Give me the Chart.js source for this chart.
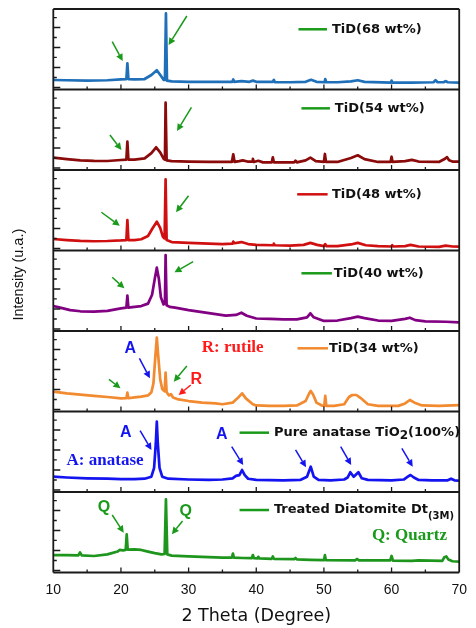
<!DOCTYPE html>
<html><head><meta charset="utf-8">
<script src="https://cdn.jsdelivr.net/npm/chart.js@4.4.0/dist/chart.umd.min.js"></script>
<style>html,body{margin:0;padding:0;background:#fff}#wrap{width:476px;height:628px}</style>
</head><body><div id="wrap"><canvas id="c" width="476" height="628"></canvas></div>
<script>
// ---------- axis ----------
const xMin = 10, xMax = 70;
const xMajorTicks = [10, 20, 30, 40, 50, 60, 70];
const xMinorTicks = [15, 25, 35, 45, 55, 65];
const panelCount = 7;      // panels stacked bottom -> top
const panelSpan = 100;     // relative intensity units per panel

// ---------- series (2θ, relative intensity) bottom -> top ----------
const seriesNames = ['Treated Diatomite Dt(3M)', 'Pure anatase TiO2(100%)', 'TiD(34 wt%)', 'TiD(40 wt%)', 'TiD(48 wt%)', 'TiD(54 wt%)', 'TiD(68 wt%)'];
const seriesColors = ['#1e961e', '#1414f0', '#f28a30', '#820082', '#d01010', '#8b0a0a', '#1f70b8'];

const diatomite = [[10,21.7],[12,21.5],[13.7,21.2],[13.95,24.8],[14.2,21.2],[16,20.5],[18,22.5],[19.5,26],[19.8,28],[20.3,27.5],[20.7,28],[20.85,47.4],[21.0,28.5],[22,28.8],[23,28],[24,26],[25,24],[26,22.5],[26.45,23],[26.65,90.9],[26.85,22.5],[27.5,21],[30,20],[33,19],[35,18.5],[36.4,18.5],[36.55,23.5],[36.7,18.5],[38,18],[39.35,17.8],[39.5,21.7],[39.65,17.8],[40.2,17.5],[40.3,19.5],[40.45,17.5],[42.3,17],[42.45,20],[42.6,17],[45.6,16.5],[45.8,18],[46,16.3],[48,15.8],[50,15.3],[50.15,21.5],[50.3,15.2],[54.6,15],[54.9,16.8],[55.2,15],[59.8,15],[60.0,20.5],[60.2,14.8],[63,14.5],[64,15],[67.5,14.5],[67.8,19],[68.1,20],[68.4,16],[69,14],[70,13.5]];

const anatase = [[10,19],[12,18],[15,17],[18,16.5],[20,16.1],[22,16],[23.5,16.5],[24.5,19],[24.9,30],[25.15,60],[25.3,87.3],[25.45,60],[25.7,30],[26.1,19],[27,16.5],[30,15.5],[33,15],[35,15.5],[36.5,17],[37.0,20],[37.5,21],[37.9,27.3],[38.3,21],[38.8,16.5],[40,15],[44,14.5],[46.5,15],[47.5,19],[48.05,31.4],[48.5,19],[49.2,15],[51,14.5],[53,15.5],[53.5,18],[53.9,24.5],[54.4,19],[55.1,24.5],[55.6,17],[56.5,15],[60,14.5],[61.8,15.5],[62.4,19],[62.8,21.1],[63.3,18],[64,15],[66,14.5],[68.3,14.5],[68.8,16.5],[69.3,14.5],[70,14]];

const tid34 = [[10,24.6],[12,22.5],[14,21],[16,19.5],[18,18],[20,16.4],[20.8,16.5],[20.95,23.4],[21.1,16.5],[22,17.5],[23,18.5],[24,20],[24.5,24],[24.8,35],[25.1,70],[25.3,91.7],[25.5,70],[25.8,40],[26.1,28],[26.45,25],[26.6,48.2],[26.75,24],[27.1,20],[27.4,21.4],[27.7,17.5],[28.5,15],[30,13],[32,11],[34,10],[35,9],[36.5,11],[37.3,17],[37.9,22.6],[38.5,16],[39.5,9],[40,7.5],[42,7],[44,7],[46,7.5],[47.3,13],[47.8,22],[48.05,25.5],[48.4,21],[48.9,11],[49.7,7.5],[50.05,7],[50.2,19.3],[50.35,7],[51.5,7],[53,9],[53.7,18],[54.2,20.5],[54.8,20.5],[55.4,17],[56.5,9],[58,7],[61,7],[62,10],[62.7,14.3],[63.4,11],[64.5,7.5],[67,7],[70,8]];

const tid40 = [[10,31],[11,29],[12.5,26],[14,24.5],[16,24],[18,25],[20,28.2],[20.8,29],[20.95,43.9],[21.1,29],[22,30],[23,31],[24,34],[24.6,45],[25,65],[25.3,78.7],[25.6,65],[25.9,42],[26.3,33],[26.5,35],[26.6,94.4],[26.75,32],[27.2,30],[28,29],[30,26],[32,23.5],[34,21],[35.5,19],[37,20],[37.8,22.7],[38.6,19],[40,15.5],[42,15],[44,14.5],[46,14.5],[47.5,17],[48,22],[48.5,17],[50,12.5],[52,13],[54,16],[55,17.8],[56,16],[58,13],[60,12.5],[62,15],[62.7,16.5],[63.5,13.5],[65,12],[68,11.5],[70,10.8]];

const tid48 = [[10,14.3],[12,13],[14,12],[16,11.5],[18,11.8],[20,12.5],[20.8,13],[20.95,37.9],[21.1,13],[22,13],[23,14],[24,18],[24.7,28],[25.3,35.8],[25.8,28],[26.2,17],[26.45,15],[26.6,88.4],[26.75,13],[27.5,10.5],[30,9.5],[33,8.5],[35,8],[36.5,8.5],[36.6,11],[36.75,9],[37.8,10.5],[38.8,8],[40,7],[42.5,6.5],[42.6,8.5],[42.75,6.5],[45,6],[47,7],[48,9.5],[49,7],[50,5.5],[50.2,8],[50.35,5.5],[52,5.5],[54,7.5],[55,9.5],[56.2,6.5],[58,5.5],[60,5],[60.1,6.5],[60.25,5],[62,5.5],[62.8,7],[64,5],[67,4.5],[68,6],[69,5],[70,4.7]];

const tid54 = [[10,15.3],[12,13.5],[14,12],[16,11.3],[18,11.2],[20,12.4],[20.8,13],[20.95,35.2],[21.1,13],[22,13],[23.5,14.5],[24.5,21],[25.2,28.2],[25.8,22],[26.3,14],[26.5,13],[26.6,83.6],[26.75,12],[27.5,11],[30,10.5],[33,10],[36.4,10],[36.6,19.5],[36.8,10],[37.5,11],[38,12],[38.7,10.5],[39.4,10.5],[39.5,13.7],[39.65,10],[40.3,11.5],[41,9.5],[42.3,9.5],[42.45,15.8],[42.6,9.5],[45.6,9.5],[45.8,11.5],[46,9.5],[47.3,12],[48,15.3],[48.8,11],[50,10],[50.15,19.9],[50.3,10],[52,10],[54,15],[55,18.3],[56,13.5],[58,10],[59.85,10],[60,16.5],[60.15,10],[62,11],[63,12.5],[64,10.5],[67,10],[67.9,14],[68.2,16],[68.5,12],[69,10.5],[70,10.3]];

const tid68 = [[10,11.8],[12,11.5],[15,11],[18,11.5],[20,12.5],[20.8,13],[20.95,32.5],[21.1,13],[22,12.5],[23.5,13],[24.5,18],[25.3,24],[25.9,17],[26.3,12],[26.5,12],[26.65,94.6],[26.8,11],[27.5,10],[30,9.5],[33,9.5],[36.45,9.5],[36.6,12.5],[36.75,9.5],[37.8,10.5],[39,9.5],[39.5,11],[40,9.5],[42.45,9.5],[42.6,12],[42.75,9],[45,9],[47.3,9.5],[48.1,12],[48.9,9.5],[50.1,9],[50.2,13],[50.35,9],[52,9],[54,10],[55,11.5],[56,9.5],[59.9,8.5],[60.0,11],[60.15,8.5],[63,8.5],[66.2,9],[66.5,11.5],[66.8,9],[67.7,9],[68.0,10.5],[68.3,9],[70,8.5]];

const seriesData = [diatomite, anatase, tid34, tid40, tid48, tid54, tid68];

// ---------- annotations (panel, 2θ, panel-relative y) ----------
const legendParts = [
  [['Treated Diatomite Dt', 0], ['(3M)', 1]],
  [['Pure anatase TiO', 0], ['2', 2], ['(100%)', 0]],
  [['TiD(34 wt%)', 0]],
  [['TiD(40 wt%)', 0]],
  [['TiD(48 wt%)', 0]],
  [['TiD(54 wt%)', 0]],
  [['TiD(68 wt%)', 0]]
];
const legendSwatchColors = ['#1a9a1a', '#1a9a1a', '#f28a30', '#1a9a1a', '#d01010', '#1a9a1a', '#1a9a1a'];
// [lineStart, lineEnd, textStart, y]
const legendPlace = [[37.53,41.89,42.61,77.6],[37.53,41.89,42.61,73.7],[46.10,50.60,50.74,78.5],[46.68,51.18,51.47,71.7],[46.05,50.55,51.18,69.8],[46.68,50.89,51.62,76.6],[46.24,50.45,51.18,74.8]];

// arrows: [panel, x1, y1, x2, y2, color]
const arrows = [
  [6,18.71,59.4,20.26,35.4,'#1a9a1a'],[6,29.74,91.3,27.04,55.3,'#1a9a1a'],
  [5,18.37,43.5,20.07,24.8,'#1a9a1a'],[5,30.42,77.9,28.29,48.4,'#1a9a1a'],
  [4,17.11,47.5,19.83,30.8,'#1a9a1a'],[4,29.99,68.1,28.14,47.5,'#1a9a1a'],
  [3,18.71,66.7,20.51,53.0,'#1a9a1a'],[3,30.67,86.1,27.91,72.9,'#1a9a1a'],
  [2,18.23,40.0,19.93,28.8,'#1a9a1a'],[2,22.73,66.1,24.28,41.2,'#1414f0'],[2,29.74,56.5,27.81,37.0,'#1a9a1a'],[2,30.32,32.9,28.53,20.5,'#ff1a1a'],
  [1,22.83,76.1,24.51,52.2,'#1414f0'],[1,36.37,56.3,38.07,33.5,'#1414f0'],[1,45.81,52.2,47.36,30.7,'#1414f0'],[1,52.48,56.3,54.03,33.5,'#1414f0'],[1,61.52,54.3,63.12,31.4,'#1414f0'],
  [0,18.71,71.4,20.41,49.4,'#1a9a1a'],[0,29.11,64.0,27.52,47.5,'#1a9a1a']
];
// labels: [panel, x, y, text, color, style]
const labels = [
  [2,21.38,78.5,'A','#1414f0','sans'],[2,36.52,78.9,'R: rutile','#ff1a1a','serif'],[2,31.15,39.1,'R','#ff1a1a','sans'],
  [1,20.70,73.3,'A','#1414f0','sans'],[1,34.92,70.8,'A','#1414f0','sans'],[1,17.65,38.9,'A: anatase','#1414f0','serif'],
  [0,17.50,80.5,'Q','#1a9a1a','sans'],[0,29.59,75.5,'Q','#1a9a1a','sans'],[0,62.64,45.7,'Q: Quartz','#1a9a1a','serif']
];
// y tick marks inside each panel (panel-relative units)
const yTickValues = [2.5, 14.9, 27.3, 39.8, 52.2, 64.6, 77.0, 89.4];

const datasets = seriesData.map((s, i) => ({
  label: seriesNames[i],
  data: s.map(p => ({x: p[0], y: p[1] + i * panelSpan})),
  borderColor: seriesColors[i],
  borderWidth: 2.7,
  borderJoinStyle: 'round',
  borderCapStyle: 'round',
  pointRadius: 0,
  tension: 0,
  fill: false
}));

const SANS = "'DejaVu Sans', 'Liberation Sans', sans-serif";
const ARIAL = "'Liberation Sans', Arial, sans-serif";
const SERIF = "'Liberation Serif', 'Times New Roman', serif";

const panelPlugin = {
  id: 'panels',
  afterDatasetsDraw(chart) {
    const ctx = chart.ctx, xs = chart.scales.x, ys = chart.scales.y, ca = chart.chartArea;
    const px = v => xs.getPixelForValue(v);
    const py = (p, v) => ys.getPixelForValue(p * panelSpan + v);
    ctx.save();
    // frames
    ctx.strokeStyle = '#1a1a1a';
    ctx.lineWidth = 1.8;
    ctx.beginPath();
    for (let p = 0; p <= panelCount; p++) {
      const y = ys.getPixelForValue(p * panelSpan);
      ctx.moveTo(ca.left, y); ctx.lineTo(ca.right, y);
    }
    ctx.moveTo(ca.left, ca.top); ctx.lineTo(ca.left, ca.bottom);
    ctx.moveTo(ca.right, ca.top); ctx.lineTo(ca.right, ca.bottom);
    ctx.stroke();
    // ticks
    ctx.lineWidth = 1.3;
    ctx.beginPath();
    for (let p = 0; p < panelCount; p++) {
      const yb = ys.getPixelForValue(p * panelSpan);
      xMajorTicks.forEach(v => { if (v > xMin && v < xMax) { ctx.moveTo(px(v), yb); ctx.lineTo(px(v), yb - 5); } });
      xMinorTicks.forEach(v => { ctx.moveTo(px(v), yb); ctx.lineTo(px(v), yb - 3); });
      yTickValues.forEach((v, k) => {
        const y = py(p, v);
        ctx.moveTo(ca.left, y); ctx.lineTo(ca.left + (k % 2 === 0 ? 7 : 3.5), y);
      });
    }
    ctx.stroke();
    // legends
    ctx.textBaseline = 'middle';
    ctx.textAlign = 'left';
    legendPlace.forEach((lp, p) => {
      const y = py(p, lp[3]);
      ctx.strokeStyle = legendSwatchColors[p];
      ctx.lineWidth = 2.5;
      ctx.beginPath(); ctx.moveTo(px(lp[0]), y); ctx.lineTo(px(lp[1]), y); ctx.stroke();
      let x = px(lp[2]);
      ctx.fillStyle = '#111';
      legendParts[p].forEach(part => {
        const sub = part[1];
        ctx.font = 'bold ' + (sub === 1 ? 10 : sub === 2 ? 12 : 13) + 'px ' + SANS;
        const dy = sub === 1 ? 6 : sub === 2 ? 3 : 0;
        ctx.fillText(part[0], x, y + dy);
        x += ctx.measureText(part[0]).width;
      });
    });
    // arrows
    arrows.forEach(a => {
      const x1 = px(a[1]), y1 = py(a[0], a[2]), x2 = px(a[3]), y2 = py(a[0], a[4]);
      const ang = Math.atan2(y2 - y1, x2 - x1);
      const hl = 7, hw = 3.5;
      const bx = x2 - hl * Math.cos(ang), by = y2 - hl * Math.sin(ang);
      ctx.strokeStyle = a[5]; ctx.fillStyle = a[5]; ctx.lineWidth = 1.5;
      ctx.beginPath(); ctx.moveTo(x1, y1); ctx.lineTo(bx, by); ctx.stroke();
      ctx.beginPath();
      ctx.moveTo(x2, y2);
      ctx.lineTo(bx + hw * Math.sin(ang), by - hw * Math.cos(ang));
      ctx.lineTo(bx - hw * Math.sin(ang), by + hw * Math.cos(ang));
      ctx.closePath(); ctx.fill();
    });
    // labels
    ctx.textAlign = 'center';
    labels.forEach(l => {
      ctx.fillStyle = l[4];
      ctx.font = l[5] === 'serif' ? 'bold 17px ' + SERIF : 'bold 16px ' + ARIAL;
      ctx.fillText(l[3], px(l[1]), py(l[0], l[2]));
    });
    // y title
    ctx.save();
    ctx.translate(19, ys.getPixelForValue(370));
    ctx.rotate(-Math.PI / 2);
    ctx.fillStyle = '#111';
    ctx.font = '14.5px ' + ARIAL;
    ctx.textAlign = 'center';
    ctx.fillText('Intensity (u.a.)', 0, 0);
    ctx.restore();
    ctx.restore();
  }
};

new Chart(document.getElementById('c'), {
  type: 'line',
  data: { datasets },
  options: {
    responsive: false,
    animation: false,
    devicePixelRatio: 1,
    layout: { padding: { left: 53.3, right: 9.3, top: 9, bottom: 0 } },
    plugins: { legend: { display: false }, tooltip: { enabled: false } },
    scales: {
      x: {
        type: 'linear', min: xMin, max: xMax,
        afterFit: s => { s.height = 55.5; },
        afterBuildTicks: s => { s.ticks = xMajorTicks.map(v => ({ value: v })); },
        grid: { display: false, drawTicks: false },
        border: { display: false },
        ticks: { padding: 9, color: '#111', font: { family: ARIAL, size: 14 }, maxRotation: 0, autoSkip: false },
        title: { display: true, text: '2 Theta (Degree)', color: '#111', font: { family: SANS, size: 17.5, lineHeight: 1.2 }, padding: { top: 0, bottom: 1 } }
      },
      y: { type: 'linear', min: 0, max: panelCount * panelSpan, display: false }
    }
  },
  plugins: [panelPlugin]
});
</script>
</body></html>
